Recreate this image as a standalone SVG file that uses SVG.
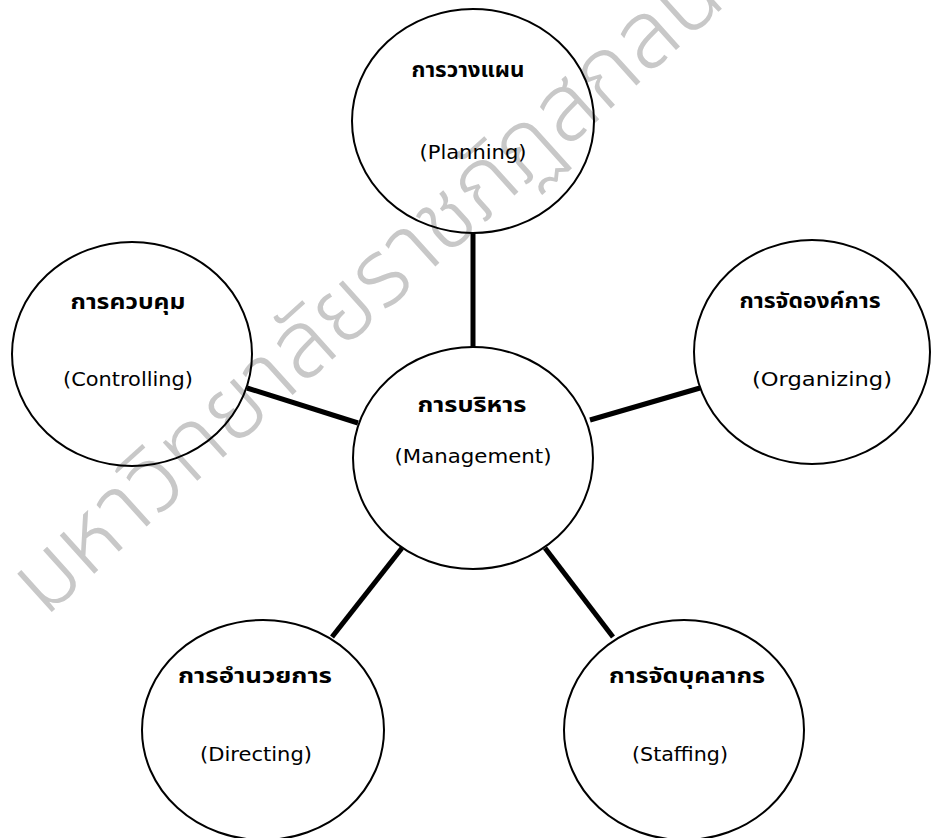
<svg xmlns="http://www.w3.org/2000/svg" width="932" height="838" viewBox="0 0 932 838">
<style>
.node ellipse{fill:none;stroke:#000;stroke-width:2}
.th{font-family:"Noto Sans Thai","Noto Sans","DejaVu Sans",sans-serif;font-size:21px;font-weight:bold;fill:#000;text-anchor:middle}
.en{font-family:"DejaVu Sans","Noto Sans",sans-serif;font-size:19px;fill:#000;text-anchor:middle}
.conn line{stroke:#000;stroke-width:5}
.wm{font-family:"Noto Sans Thai","Noto Sans",sans-serif;font-size:94px;font-weight:300;fill:#c8c8c8}
</style>
<rect width="932" height="838" fill="#fff"/>
<g id="watermark"><text class="wm" transform="translate(45 618) rotate(-42)">มหาวิทยาลัยราชภัฏสกลนคร</text></g>
<g id="connectors" class="conn">
<line x1="473" y1="232" x2="473" y2="348"/>
<line x1="247" y1="388" x2="358" y2="423"/>
<line x1="590" y1="420" x2="700" y2="388"/>
<line x1="402" y1="548" x2="332" y2="637"/>
<line x1="545" y1="548" x2="613" y2="637"/>
</g>
<g id="planning" class="node"><ellipse cx="473" cy="121" rx="121" ry="112"/>
<text class="th" x="468" y="77" textLength="113" lengthAdjust="spacingAndGlyphs">การวางแผน</text>
<text class="en" x="473" y="159" textLength="107" lengthAdjust="spacingAndGlyphs">(Planning)</text></g>
<g id="controlling" class="node"><ellipse cx="132" cy="354" rx="120" ry="112"/>
<text class="th" x="128" y="309" textLength="115" lengthAdjust="spacingAndGlyphs">การควบคุม</text>
<text class="en" x="128" y="386" textLength="130" lengthAdjust="spacingAndGlyphs">(Controlling)</text></g>
<g id="management" class="node"><ellipse cx="473" cy="458" rx="120" ry="111"/>
<text class="th" x="472" y="412" textLength="109" lengthAdjust="spacingAndGlyphs">การบริหาร</text>
<text class="en" x="473" y="463" textLength="157" lengthAdjust="spacingAndGlyphs">(Management)</text></g>
<g id="organizing" class="node"><ellipse cx="812" cy="352" rx="118" ry="112"/>
<text class="th" x="810" y="308" textLength="141" lengthAdjust="spacingAndGlyphs">การจัดองค์การ</text>
<text class="en" x="822" y="386" textLength="140" lengthAdjust="spacingAndGlyphs">(Organizing)</text></g>
<g id="directing" class="node"><ellipse cx="263" cy="730" rx="121" ry="110"/>
<text class="th" x="255" y="683" textLength="154" lengthAdjust="spacingAndGlyphs">การอำนวยการ</text>
<text class="en" x="256" y="761" textLength="112" lengthAdjust="spacingAndGlyphs">(Directing)</text></g>
<g id="staffing" class="node"><ellipse cx="684" cy="730" rx="120" ry="110"/>
<text class="th" x="687" y="683" textLength="156" lengthAdjust="spacingAndGlyphs">การจัดบุคลากร</text>
<text class="en" x="680" y="761" textLength="96" lengthAdjust="spacingAndGlyphs">(Staffing)</text></g>
</svg>
